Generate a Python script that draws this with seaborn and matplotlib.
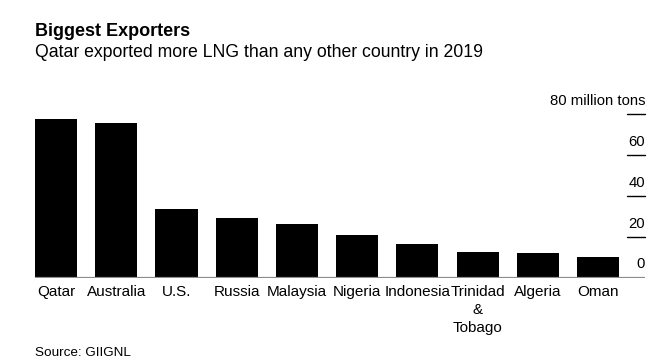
import matplotlib
matplotlib.use("Agg")
import matplotlib.pyplot as plt
import seaborn as sns
import pandas as pd

countries = ["Qatar", "Australia", "U.S.", "Russia", "Malaysia", "Nigeria",
             "Indonesia", "Trinidad\n&\nTobago", "Algeria", "Oman"]
exports = [77.8, 75.4, 33.8, 29.3, 26.2, 20.8, 16.5, 12.5, 12.2, 10.3]
ytick_values = [0, 20, 40, 60, 80]
ytick_labels = ["0", "20", "40", "60", "80 million tons"]

title = "Biggest Exporters"
subtitle = "Qatar exported more LNG than any other country in 2019"
source = "Source: GIIGNL"

sns.set_style("white")
plt.rcParams["font.family"] = ["Liberation Sans", "DejaVu Sans"]

df = pd.DataFrame({"country": countries, "exports": exports})

fig = plt.figure(figsize=(6.69, 3.63), dpi=100)
ax = fig.add_axes([35 / 669, (363 - 277.7) / 363, 610 / 669, (277.7 - 114) / 363])

sns.barplot(data=df, x="country", y="exports", color="black", saturation=1,
            width=0.7, linewidth=0, ax=ax)

ax.set_xlim(-0.35, 9.78)
ax.set_ylim(0, 80)
for s in ax.spines.values():
    s.set_visible(False)
ax.set_xlabel("")
ax.set_ylabel("")
ax.set_yticks([])
ax.tick_params(axis="x", length=0, pad=5.5, labelsize=11, colors="black")
for lbl in ax.get_xticklabels():
    lbl.set_linespacing(1.35)

ax.axhline(0, color="#8c8c8c", lw=1.6, zorder=3)
for v, t in zip(ytick_values, ytick_labels):
    if v > 0:
        ax.axhline(v, xmin=(627 - 35) / 610, xmax=1.0, color="black", lw=1.0, clip_on=False)
    ax.annotate(t, xy=(1.0, v), xycoords=ax.get_yaxis_transform(),
                xytext=(0, 4 if v > 0 else 5), textcoords="offset points",
                ha="right", va="bottom", fontsize=10.7, color="black",
                annotation_clip=False)

fig.text(35 / 669, 1 - 36 / 363, title, fontsize=13, fontweight="bold",
         ha="left", va="baseline", color="black")
fig.text(35 / 669, 1 - 57 / 363, subtitle, fontsize=12.7, ha="left",
         va="baseline", color="black")
fig.text(35 / 669, 1 - 356 / 363, source, fontsize=9.7, ha="left",
         va="baseline", color="black")

fig.savefig("out.png", dpi=100)
